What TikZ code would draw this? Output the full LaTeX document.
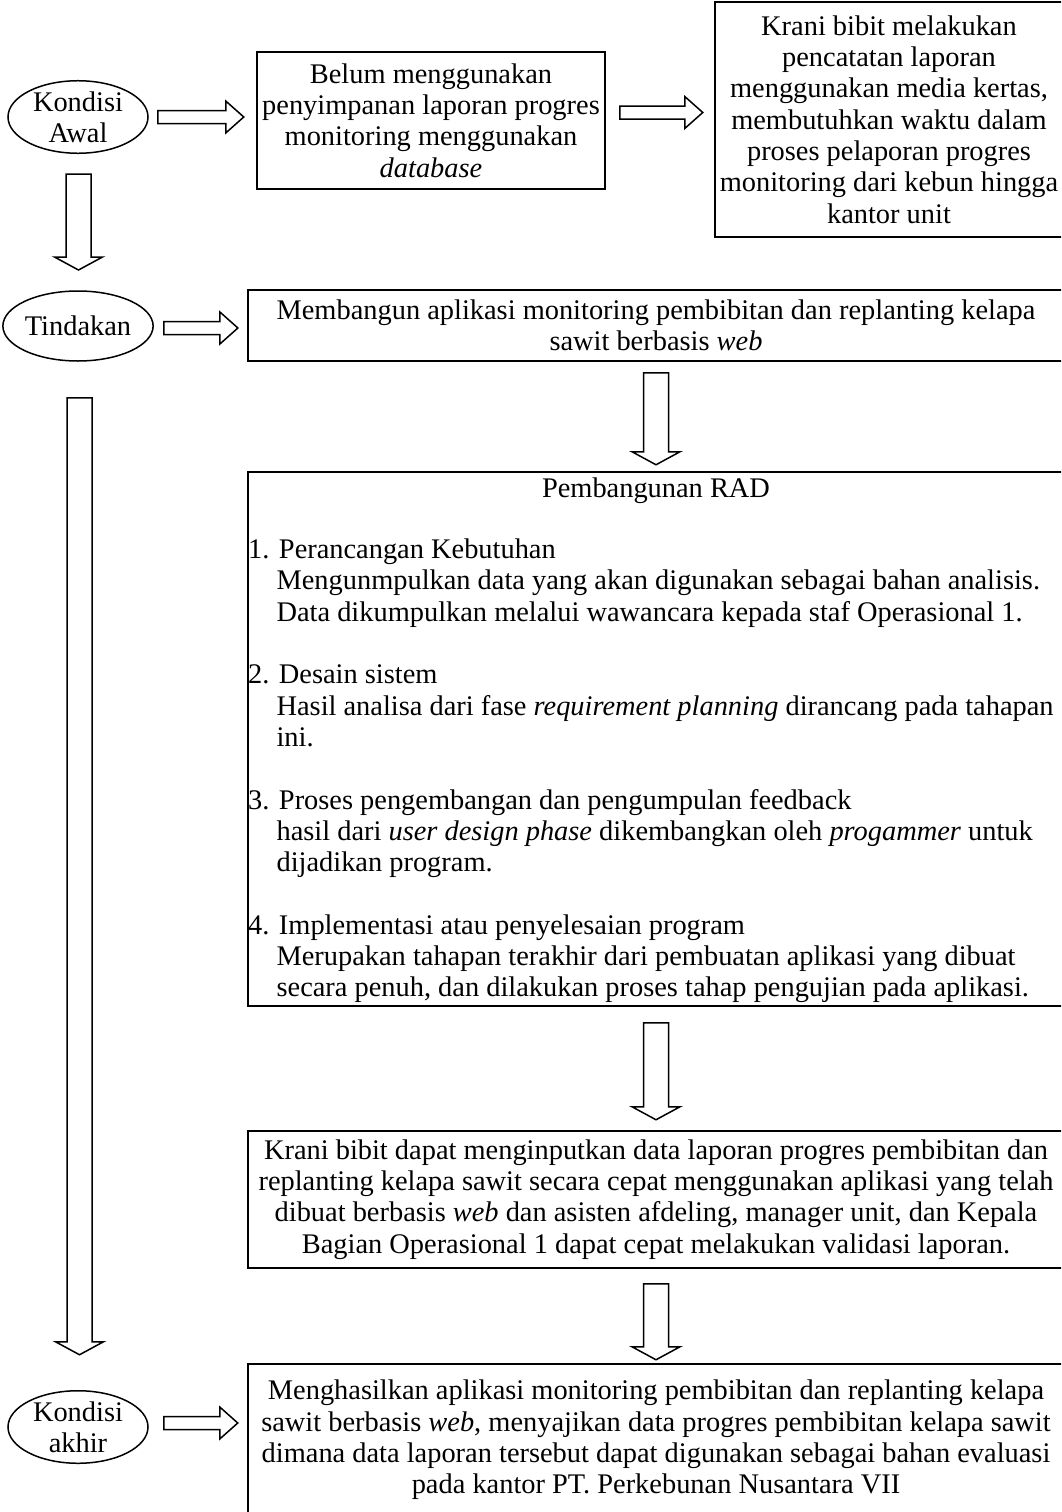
\documentclass[tikz,border=0pt]{standalone}
\usepackage{fontspec}
\setmainfont{Liberation Serif}
\usetikzlibrary{calc,shapes.geometric}
\newcommand\bodyfs{\fontsize{28.4pt}{31.3pt}\selectfont}
\newcommand\ind{\hspace*{1em}}
\begin{document}
\begin{tikzpicture}[x=1pt,y=-1pt,
  outline/.style={draw, line width=1.5pt, line join=miter},
  box/.style={outline, rectangle, inner sep=0pt, align=center, font=\bodyfs},
  oval/.style={outline, ellipse, minimum width=140pt, minimum height=70pt,
               inner sep=0pt, align=center, font=\bodyfs},
  txt/.style={inner sep=0pt, font=\bodyfs},
  pics/rblock/.style={code={\draw[outline]
      (0,-6.5) -- ({#1-18},-6.5) -- ({#1-18},-16) -- (#1,0)
      -- ({#1-18},16) -- ({#1-18},6.5) -- (0,6.5) -- cycle;}},
  pics/dblock/.style={code={\draw[outline]
      (-12.5,0) -- (-12.5,{#1-13}) -- (-24,{#1-13}) -- (0,#1)
      -- (24,{#1-13}) -- (12.5,{#1-13}) -- (12.5,0) -- cycle;}},
]
\useasboundingbox (0,0) rectangle (1061,1512);
\clip (0,0) rectangle (1061,1512);

% left column: stages
\node[oval] (kawal) at (78,117) {Kondisi\\Awal};
\node[oval] (tindakan) at (78,326) {Tindakan};
\node[oval] (kakhir) at (78,1427) {Kondisi\\akhir};

% initial condition
\node[box, minimum width=348pt, minimum height=137pt] (b1) at (431,120.5)
  {Belum menggunakan\\penyimpanan laporan progres\\monitoring menggunakan\\\textit{database}};
\node[box, minimum width=348pt, minimum height=235pt] (b2) at (889,119.5)
  {Krani bibit melakukan\\pencatatan laporan\\menggunakan media kertas,\\membutuhkan waktu dalam\\proses pelaporan progres\\monitoring dari kebun hingga\\kantor unit};

% action
\node[box, minimum width=816pt, minimum height=71pt] (b3) at (656,325.5)
  {Membangun aplikasi monitoring pembibitan dan replanting kelapa\\sawit berbasis \textit{web}};

% RAD stages
\node[box, minimum width=816pt, minimum height=534pt] (rad) at (656,739) {};
\node[txt] (radtitle) at (656,491) {Pembangunan RAD};
\node[txt, align=left, anchor=west] (radbody) at (248,771)
  {1. Perancangan Kebutuhan\\
   \ind Mengunmpulkan data yang akan digunakan sebagai bahan analisis.\\
   \ind Data dikumpulkan melalui wawancara kepada staf Operasional 1.\\[31.3pt]
   2. Desain sistem\\
   \ind Hasil analisa dari fase \textit{requirement planning} dirancang pada tahapan\\
   \ind ini.\\[31.3pt]
   3. Proses pengembangan dan pengumpulan feedback\\
   \ind hasil dari \textit{user design phase} dikembangkan oleh \textit{progammer} untuk\\
   \ind dijadikan program.\\[31.3pt]
   4. Implementasi atau penyelesaian program\\
   \ind Merupakan tahapan terakhir dari pembuatan aplikasi yang dibuat\\
   \ind secara penuh, dan dilakukan proses tahap pengujian pada aplikasi.};

% outcome
\node[box, minimum width=816pt, minimum height=137pt] (b5) at (656,1199.5)
  {Krani bibit dapat menginputkan data laporan progres pembibitan dan\\replanting kelapa sawit secara cepat menggunakan aplikasi yang telah\\dibuat berbasis \textit{web} dan asisten afdeling, manager unit, dan Kepala\\Bagian Operasional 1 dapat cepat melakukan validasi laporan.};

% final condition
\node[box, minimum width=816pt, minimum height=152pt] (b6) at (656,1440)
  {Menghasilkan aplikasi monitoring pembibitan dan replanting kelapa\\sawit berbasis \textit{web}, menyajikan data progres pembibitan kelapa sawit\\dimana data laporan tersebut dapat digunakan sebagai bahan evaluasi\\pada kantor PT. Perkebunan Nusantara VII};

% block arrows
\pic at ($(kawal.east)+(9,0)$) {rblock=86};
\pic at ($(b1.east)+(14,-8)$) {rblock=83};
\pic at ($(tindakan.east)+(10,2)$) {rblock=74};
\pic at ($(kakhir.east)+(15,-4)$) {rblock=74};
\pic at ($(kawal.south)+(0.5,20)$) {dblock=96};
\pic at ($(tindakan.south)+(1.5,36)$) {dblock=957};
\pic at ($(b3.south)+(0,11)$) {dblock=92};
\pic at ($(rad.south)+(0,16)$) {dblock=97};
\pic at ($(b5.south)+(0,15)$) {dblock=76};
\end{tikzpicture}
\end{document}
